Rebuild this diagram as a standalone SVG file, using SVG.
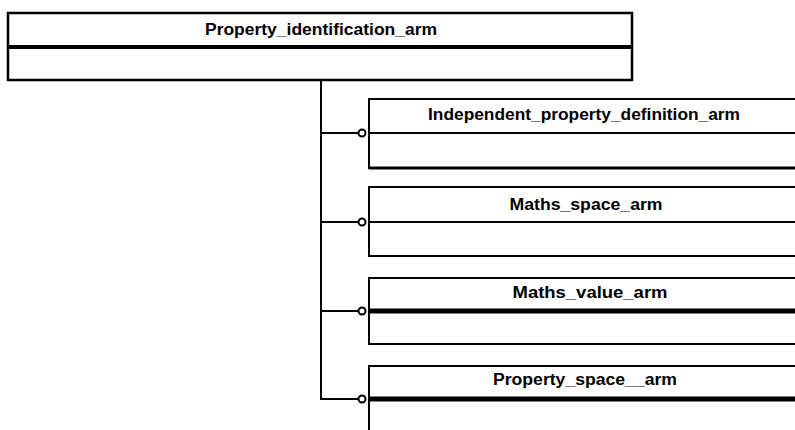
<svg xmlns="http://www.w3.org/2000/svg" width="795" height="430" viewBox="0 0 795 430">
<style>
.box{fill:#fff;stroke:#000;stroke-width:2}
.div{stroke:#000;stroke-width:2}
.thick{stroke:#000;stroke-width:5}
.lbl{font-family:"Liberation Sans",Arial,sans-serif;font-weight:bold;font-size:16px;text-anchor:middle;fill:#000}
.con{fill:none;stroke:#000;stroke-width:2}
.circ{fill:#fff;stroke:#000;stroke-width:2}
</style>
<rect width="795" height="430" fill="#fff"/>
<g id="Property_identification_arm">
<rect class="box" x="8" y="13" width="624" height="67" style="stroke-width:2.5"/>
<line class="div" x1="8" y1="47" x2="632" y2="47" style="stroke-width:4"/>
<text class="lbl" x="321" y="35" textLength="232" lengthAdjust="spacingAndGlyphs">Property_identification_arm</text>
</g>
<g id="connectors">
<path class="con" d="M321 80 V399 H360"/>
<line class="con" x1="321" y1="133" x2="360" y2="133"/>
<line class="con" x1="321" y1="222" x2="360" y2="222"/>
<line class="con" x1="321" y1="311" x2="360" y2="311"/>
<circle class="circ" cx="362" cy="133" r="3.5"/>
<circle class="circ" cx="362" cy="222" r="3.5"/>
<circle class="circ" cx="362" cy="311" r="3.5"/>
<circle class="circ" cx="362" cy="399" r="3.5"/>
</g>
<g id="Independent_property_definition_arm">
<rect class="box" x="369" y="99" width="430" height="69"/>
<line class="div" x1="369" y1="133" x2="799" y2="133"/>
<line class="div" x1="369" y1="168" x2="799" y2="168" style="stroke-width:3"/>
<text class="lbl" x="584" y="120" textLength="312" lengthAdjust="spacingAndGlyphs">Independent_property_definition_arm</text>
</g>
<g id="Maths_space_arm">
<rect class="box" x="369" y="187" width="430" height="69"/>
<line class="div" x1="369" y1="222" x2="799" y2="222"/>
<text class="lbl" x="586" y="210" textLength="153" lengthAdjust="spacingAndGlyphs">Maths_space_arm</text>
</g>
<g id="Maths_value_arm">
<rect class="box" x="369" y="278" width="430" height="66"/>
<line class="thick" x1="369" y1="311" x2="799" y2="311"/>
<text class="lbl" x="590" y="298" textLength="155" lengthAdjust="spacingAndGlyphs">Maths_value_arm</text>
</g>
<g id="Property_space_arm">
<rect class="box" x="369" y="366" width="430" height="70"/>
<line class="thick" x1="369" y1="399" x2="799" y2="399"/>
<text class="lbl" x="585" y="385" textLength="184" lengthAdjust="spacingAndGlyphs">Property_space__arm</text>
</g>
</svg>
